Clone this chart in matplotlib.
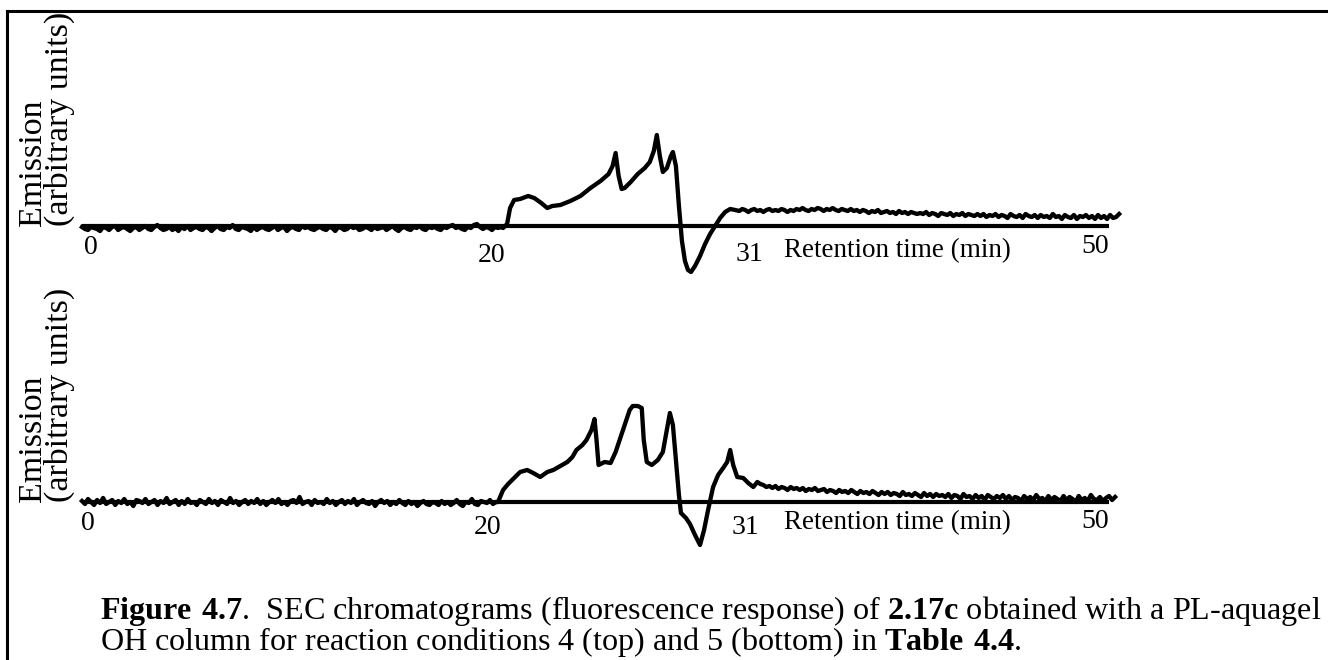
import numpy as np
import matplotlib
matplotlib.use("Agg")
import matplotlib.pyplot as plt
from matplotlib.lines import Line2D

# ---------------------------------------------------------------
# Chromatogram data (emission, arbitrary units) vs retention time
# ---------------------------------------------------------------
# Run 4 (top trace): flat lead-in, eluting peaks, tail
top_pre_vals = [-1, -3, -4, -1, -2, -3, -5, -1, -2, -4, -1, 0, -4, -2, -1, -3, -5, -2, -1, -4,
                -2, 0, -3, -4, -1, 1, -2, -4, -3, -1, -4, -2, -5, -1, -3, 0, -4, -2, -1, -3,
                -4, -1, -2, -5, -2, 0, -3, -4, -1, -2, 1, -3, -4, -1, -2, -3, -5, -1, -4, -2,
                -1, -3, -4, -2, 0, -4, -2, -1, -5, -2, -1, -3, -4, 0, -2, -1, -3, -4, -2, -1,
                -3, -4, -1, -2, -5, -1, -2, -4, -3, 0, -2, -1, -4, -3, -1, -2, -4, -1, -3, -2,
                -1, -4, -2, 0, -3, -5, -2, -1, -3, -4, -1, -2, 0, -3, -4, -1, -2, -1, -3, -4,
                -1, -2, 0, 1, -2, -1, -3, -4, -1, -2, 1, 2, -1, -3, -1, -2, -4, -1, -2, -1]
top_peak_time = [20.55, 20.75, 20.9, 21.1, 21.4, 21.8, 22.1, 22.45, 22.75, 23.0,
                 23.4, 23.9, 24.4, 24.9, 25.4, 25.8, 26.0, 26.15, 26.3, 26.45,
                 26.6, 26.9, 27.25, 27.6, 27.85, 28.05, 28.2, 28.35, 28.5, 28.7,
                 28.9, 29.0, 29.15, 29.3, 29.45, 29.6, 29.75, 29.9, 30.1, 30.35,
                 30.6, 30.85, 31.1, 31.35, 31.6, 31.85, 32.1]
top_peak_vals = [-2, 2, 18, 26, 27, 30, 28, 23, 18, 20,
                 21, 25, 30, 38, 45, 52, 60, 73, 50, 37,
                 38, 44, 52, 58, 64, 75, 91, 70, 54, 58,
                 70, 74, 60, 20, -15, -35, -44, -46, -40, -30,
                 -18, -8, 0, 8, 14, 17, 16]
top_tail_vals = [15, 17, 16, 14, 16, 17, 15, 16, 14, 16, 17, 15, 16, 15, 17, 16, 14, 16, 15, 17,
                 16, 18, 16, 15, 17, 16, 18, 17, 15, 17, 16, 18, 16, 15, 17, 16, 15, 17, 15, 16,
                 14, 16, 15, 13, 15, 14, 16, 13, 14, 15, 13, 14, 12, 15, 13, 14, 12, 14, 13, 12,
                 13, 12, 14, 11, 13, 12, 10, 13, 12, 11, 13, 10, 12, 11, 13, 10, 12, 11, 10, 12,
                 10, 12, 9, 11, 10, 12, 9, 11, 10, 8, 12, 10, 9, 11, 8, 12, 10, 9, 11, 8,
                 11, 9, 10, 8, 12, 9, 10, 7, 11, 9, 8, 11, 7, 10, 9, 11, 8, 10, 7, 11,
                 8, 10, 7, 11, 8, 9, 12]

# Run 5 (bottom trace)
bot_pre_vals = [1, -2, 3, 0, -3, 2, -1, 4, -2, 0, 2, -3, 1, -1, 3, -2, 0, -4, 2, 1,
                -1, 3, -2, 0, 2, -3, 1, -1, 4, -2, 0, 2, -3, 1, -2, 3, -1, 0, -3, 2,
                0, -2, 3, -1, 1, -3, 2, 0, -2, 4, -1, 1, -3, 0, 2, -2, 1, -1, 3, -2,
                1, -3, 0, 2, -1, 3, -2, 0, -3, 1, 2, -1, 5, -2, 0, 1, -3, 2, -1, 0,
                -2, 3, -1, 1, -3, 0, 2, -2, 1, -1, 3, -3, 0, 2, -1, -2, 1, -4, 0, 2,
                -1, 1, -3, 0, -2, 2, -1, -3, 1, -2, 0, -4, -1, 1, -2, -3, 0, -1, -3, 1,
                -2, 0, -3, -1, 2, -2, -4, 0, -1, 3, -2, -3, 1, 0, -1, 2, -2, 0]
bot_peak_time = [20.3, 20.55, 20.8, 21.15, 21.4, 21.75, 22.05, 22.4, 22.75, 23.05,
                 23.4, 23.75, 24.0, 24.2, 24.5, 24.7, 24.95, 25.1, 25.2, 25.3,
                 25.6, 25.9, 26.15, 26.4, 26.65, 26.85, 27.0, 27.25, 27.45, 27.55,
                 27.7, 27.95, 28.25, 28.5, 28.7, 28.85, 29.0, 29.15, 29.3, 29.4,
                 29.65, 29.85, 30.1, 30.35, 30.55, 30.75, 31.0, 31.25, 31.5, 31.7,
                 31.85, 32.0, 32.2, 32.5, 32.75, 33.0, 33.2, 33.35]
bot_peak_vals = [0, 12, 18, 25, 30, 32, 29, 25, 30, 32,
                 36, 40, 45, 52, 57, 62, 72, 83, 62, 37,
                 40, 39, 50, 65, 80, 92, 96, 96, 94, 62,
                 40, 37, 42, 50, 72, 89, 77, 42, 7, -11,
                 -16, -22, -33, -43, -28, -8, 15, 27, 34, 40,
                 52, 37, 25, 24, 19, 15, 20, 18]
bot_tail_vals = [17, 15, 16, 14, 16, 13, 15, 14, 12, 15, 13, 14, 12, 14, 11, 13, 12, 14, 11, 12,
                 13, 10, 12, 11, 9, 12, 10, 11, 9, 12, 10, 8, 11, 9, 10, 8, 11, 9, 7, 10,
                 8, 10, 7, 9, 8, 6, 10, 7, 8, 6, 9, 7, 5, 9, 6, 8, 5, 8, 6, 7,
                 5, 8, 4, 7, 6, 3, 8, 5, 6, 3, 7, 4, 6, 2, 7, 5, 3, 6, 4, 7,
                 3, 6, 2, 5, 4, 1, 6, 3, 5, 2, 7, 3, 4, 1, 6, 2, 5, 3, 1, 6,
                 2, 5, 3, 0, 6, 2, 4, 1, 7, 3, 2, 5, 1, 4, 6, 2, 5]

tick_labels = ["0", "20", "31", "50"]
x_title = "Retention time (min)"
y_title = "Emission\n(arbitrary units)"

# Sampling grids for the flat stretches of each trace
top_time = np.concatenate([np.linspace(-0.4, 20.45, len(top_pre_vals)),
                           top_peak_time,
                           np.linspace(32.3, 51.2, len(top_tail_vals))])
top_vals = np.concatenate([top_pre_vals, top_peak_vals, top_tail_vals])
bot_time = np.concatenate([np.linspace(-0.4, 20.2, len(bot_pre_vals)),
                           bot_peak_time,
                           np.linspace(33.5, 51.0, len(bot_tail_vals))])
bot_vals = np.concatenate([bot_pre_vals, bot_peak_vals, bot_tail_vals])

# ---------------------------------------------------------------
W, H = 1328, 660
fig = plt.figure(figsize=(W / 100, H / 100), dpi=100)
fig.patch.set_facecolor("white")
SERIF = "Liberation Serif"
plt.rcParams["mathtext.fontset"] = "custom"
plt.rcParams["mathtext.rm"] = SERIF
plt.rcParams["mathtext.bf"] = SERIF + ":bold"


def px_axes(x0, x1, y_top, y_bot):
    return fig.add_axes([x0 / W, (H - y_bot) / H, (x1 - x0) / W, (y_bot - y_top) / H])


def panel(y_top, y_bot, baseline, t, v, lab_pos):
    ax = px_axes(90, 1095, y_top, y_bot)
    ax.set_xlim(0, 50)
    ax.set_ylim(baseline - y_bot, baseline - y_top)
    ax.axis("off")
    ax.hlines(0, -0.4, 50.7, color="black", lw=3.0, clip_on=False)
    ax.plot(t, v, color="black", lw=3.1, clip_on=False, solid_joinstyle="round")
    for lab, (tx, ty) in zip(tick_labels, lab_pos[:4]):
        ax.text(tx, ty, lab, ha="center", va="center", fontsize=20, family=SERIF)
    tx, ty = lab_pos[4]
    ax.text(tx, ty, x_title, ha="center", va="center", fontsize=19.5, family=SERIF)
    # rotated two-line y title, both lines starting at the baseline level
    fig.text(46 / W, (H - baseline) / H, y_title, rotation=90, ha="center",
             va="bottom", multialignment="left", linespacing=0.82,
             fontsize=24.5, family=SERIF)
    return ax


panel(100, 300, 226, top_time, top_vals,
      [(0.05, -21), (20.0, -29), (32.8, -28), (50.0, -20), (40.15, -25)])
panel(380, 580, 502, bot_time, bot_vals,
      [(-0.1, -21), (19.8, -25), (32.6, -26), (50.0, -20), (40.15, -21)])

# Frame (left and top rules)
fig.add_artist(Line2D([7 / W, 7 / W], [0, (H - 11) / H], color="black", lw=2.2,
                      transform=fig.transFigure))
fig.add_artist(Line2D([7 / W, 1.0], [(H - 11) / H, (H - 11) / H], color="black",
                      lw=2.2, transform=fig.transFigure))

# Caption
cap1 = (r"$\mathbf{Figure\ 4.7}$.  SEC chromatograms (fluorescence response) of "
        r"$\mathbf{2.17c}$ obtained with a PL-aquagel")
cap2 = (r"OH column for reaction conditions 4 (top) and 5 (bottom) in "
        r"$\mathbf{Table\ 4.4}$.")
size = 18
t1 = fig.text(100 / W, (H - 611) / H, cap1, ha="left", va="center",
              fontsize=size, family=SERIF)
fig.canvas.draw()
w = t1.get_window_extent(fig.canvas.get_renderer()).width
size = size * (1225 / w)
t1.set_fontsize(size)
fig.text(100 / W, (H - 642) / H, cap2, ha="left", va="center",
         fontsize=size, family=SERIF)

fig.savefig("out.png", dpi=100, facecolor="white")
